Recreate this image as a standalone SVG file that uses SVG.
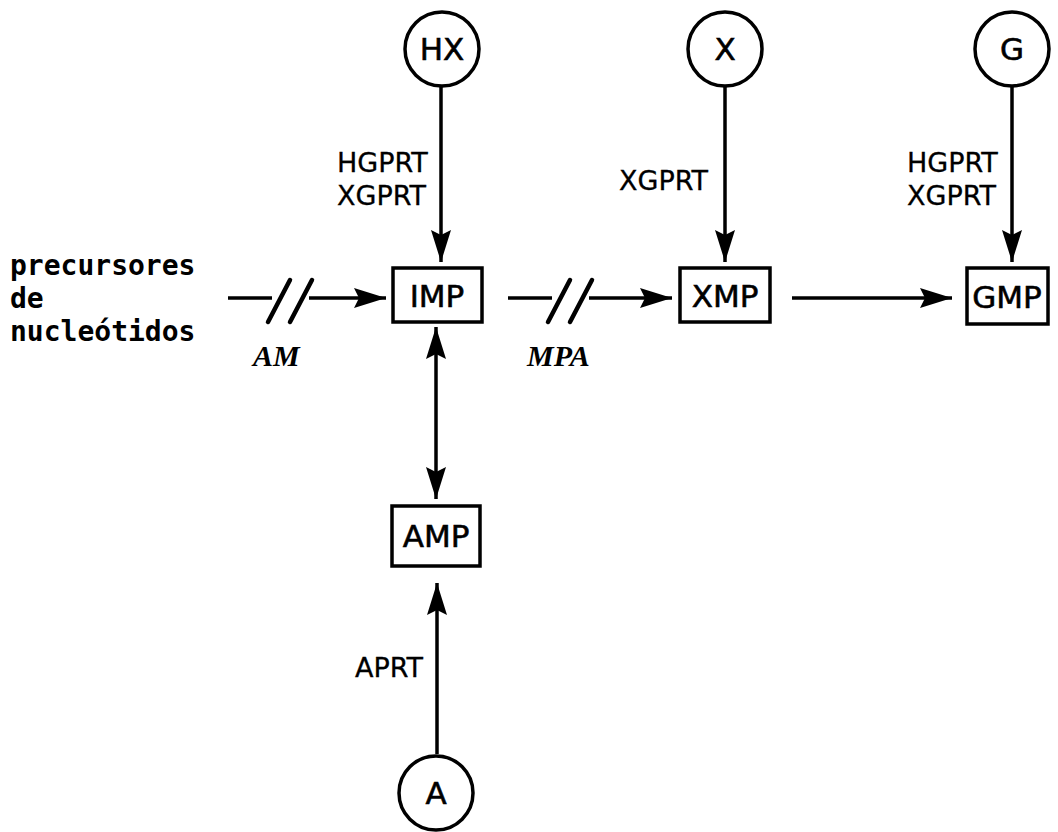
<svg xmlns="http://www.w3.org/2000/svg" width="1058" height="832" viewBox="0 0 1058 832">
<defs>
<marker id="ah" viewBox="0 0 32 20" refX="32" refY="10" markerWidth="32" markerHeight="20" markerUnits="userSpaceOnUse" orient="auto-start-reverse">
<path d="M0,0 L32,10 L0,20 L5,10 Z" fill="#000"/>
</marker>
<style>
.ln{stroke:#000;stroke-width:3.5;fill:none}
.sl{stroke:#000;stroke-width:4.5;fill:none;stroke-linecap:round}
.bx{stroke:#000;stroke-width:3.5;fill:#fff}
.ci{stroke:#000;stroke-width:3.5;fill:#fff}
.t{font-family:"DejaVu Sans","Liberation Sans",sans-serif;font-size:31px;fill:#000;stroke:#000;stroke-width:0.6;text-anchor:middle}
.lb{font-family:"DejaVu Sans","Liberation Sans",sans-serif;font-size:27px;fill:#000;stroke:#000;stroke-width:0.3}
.pc{font-family:"DejaVu Sans Mono","Liberation Mono",monospace;font-size:28px;font-weight:bold;fill:#000}
.it{font-family:"Liberation Serif",serif;font-style:italic;font-weight:bold;font-size:30px;fill:#000}
</style>
</defs>
<g id="connectors">
<line class="ln" x1="441" y1="87" x2="441" y2="262" marker-end="url(#ah)"/>
<line class="ln" x1="725" y1="87" x2="725" y2="262" marker-end="url(#ah)"/>
<line class="ln" x1="1012" y1="87" x2="1012" y2="262" marker-end="url(#ah)"/>
<line class="ln" x1="436" y1="327" x2="436" y2="499" marker-start="url(#ah)" marker-end="url(#ah)"/>
<line class="ln" x1="437" y1="754" x2="437" y2="583" marker-end="url(#ah)"/>
<line class="ln" x1="228" y1="298" x2="272" y2="298"/>
<line class="sl" x1="268" y1="322" x2="290" y2="280"/>
<line class="sl" x1="290" y1="322" x2="312" y2="280"/>
<line class="ln" x1="309" y1="298" x2="386" y2="298" marker-end="url(#ah)"/>
<line class="ln" x1="508" y1="298" x2="552" y2="298"/>
<line class="sl" x1="548" y1="322" x2="570" y2="280"/>
<line class="sl" x1="570" y1="322" x2="592" y2="280"/>
<line class="ln" x1="589" y1="298" x2="672" y2="298" marker-end="url(#ah)"/>
<line class="ln" x1="792" y1="298" x2="952" y2="298" marker-end="url(#ah)"/>
</g>
<g id="node-HX"><circle class="ci" cx="442" cy="49" r="37"/><text class="t" x="442" y="60">HX</text></g>
<g id="node-X"><circle class="ci" cx="725" cy="49" r="37"/><text class="t" x="725" y="60">X</text></g>
<g id="node-G"><circle class="ci" cx="1012" cy="49" r="37"/><text class="t" x="1012" y="60">G</text></g>
<g id="node-A"><circle class="ci" cx="436" cy="793" r="37"/><text class="t" x="436" y="804">A</text></g>
<g id="node-IMP"><rect class="bx" x="393" y="268" width="89" height="54"/><text class="t" x="437" y="307">IMP</text></g>
<g id="node-XMP"><rect class="bx" x="680" y="268" width="90" height="54"/><text class="t" x="725" y="307">XMP</text></g>
<g id="node-GMP"><rect class="bx" x="967" y="268" width="81" height="56"/><text class="t" x="1007" y="308">GMP</text></g>
<g id="node-AMP"><rect class="bx" x="392" y="506" width="88" height="60"/><text class="t" x="436" y="547">AMP</text></g>
<g id="labels">
<text class="pc" x="10" y="275">precursores</text>
<text class="pc" x="10" y="308">de</text>
<text class="pc" x="10" y="341">nucleótidos</text>
<text class="it" x="253" y="366">AM</text>
<text class="it" x="527" y="366">MPA</text>
<text class="lb" x="337" y="172">HGPRT</text>
<text class="lb" x="337" y="205">XGPRT</text>
<text class="lb" x="619" y="190">XGPRT</text>
<text class="lb" x="907" y="172">HGPRT</text>
<text class="lb" x="907" y="205">XGPRT</text>
<text class="lb" x="355" y="677">APRT</text>
</g>
</svg>
